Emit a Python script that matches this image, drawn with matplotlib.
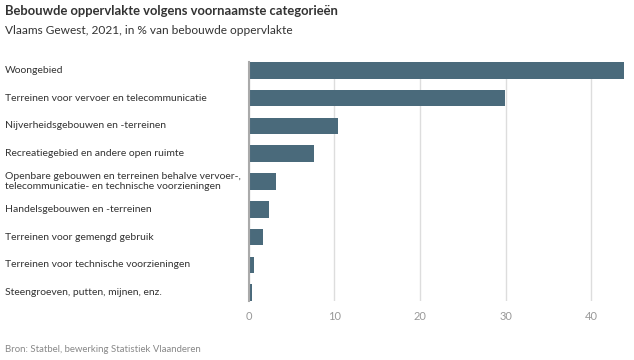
import matplotlib
matplotlib.use("Agg")
import matplotlib.pyplot as plt

categories = [
    "Woongebied",
    "Terreinen voor vervoer en telecommunicatie",
    "Nijverheidsgebouwen en -terreinen",
    "Recreatiegebied en andere open ruimte",
    "Openbare gebouwen en terreinen behalve vervoer-,\ntelecommunicatie- en technische voorzieningen",
    "Handelsgebouwen en -terreinen",
    "Terreinen voor gemengd gebruik",
    "Terreinen voor technische voorzieningen",
    "Steengroeven, putten, mijnen, enz.",
]
values = [43.8, 29.9, 10.4, 7.6, 3.2, 2.4, 1.7, 0.6, 0.4]
xticks = [0, 10, 20, 30, 40]

plt.rcParams["font.family"] = ["Lato", "DejaVu Sans"]
BAR = "#4a6a7b"
W, H = 634, 360

fig = plt.figure(figsize=(6.34, 3.6), dpi=100)
ax = fig.add_axes([248.5 / W, 1 - 301 / H, (624 - 248.5) / W, (301 - 62) / H])

ypos = list(range(len(categories)))
ax.barh(ypos, values, height=0.6, color=BAR, zorder=3)
ax.set_ylim(len(categories) - 0.7, -0.3)
ax.set_xlim(0, 43.8)
ax.set_xticks(xticks)
ax.set_xticklabels([str(t) for t in xticks], color="#999999", fontsize=8)
ax.tick_params(axis="x", length=0, pad=7)
ax.set_yticks([])
ax.grid(axis="x", color="#dddddd", linewidth=1, zorder=0)
for s in ["top", "right", "bottom"]:
    ax.spines[s].set_visible(False)
ax.spines["left"].set_color("#aaaaaa")
ax.spines["left"].set_linewidth(1.5)
ax.spines["left"].set_zorder(4)

# category labels, left aligned at the figure edge
for y, lab in zip(ypos, categories):
    ax.annotate(lab, xy=(0, y), xycoords=("figure fraction", "data"),
                xytext=(5, 0), textcoords="offset pixels",
                ha="left", va="center", fontsize=7.5, color="#333333",
                linespacing=1.15)

fig.text(5 / W, 1 - 11 / H, "Bebouwde oppervlakte volgens voornaamste categorieën",
         fontsize=9.4, fontweight="bold", color="#333333", va="center")
fig.text(5 / W, 1 - 30 / H, "Vlaams Gewest, 2021, in % van bebouwde oppervlakte",
         fontsize=8.6, color="#333333", va="center")
fig.text(5 / W, 1 - 350 / H, "Bron: Statbel, bewerking Statistiek Vlaanderen",
         fontsize=6.9, color="#888888", va="center")

fig.savefig("out.png", dpi=100)
